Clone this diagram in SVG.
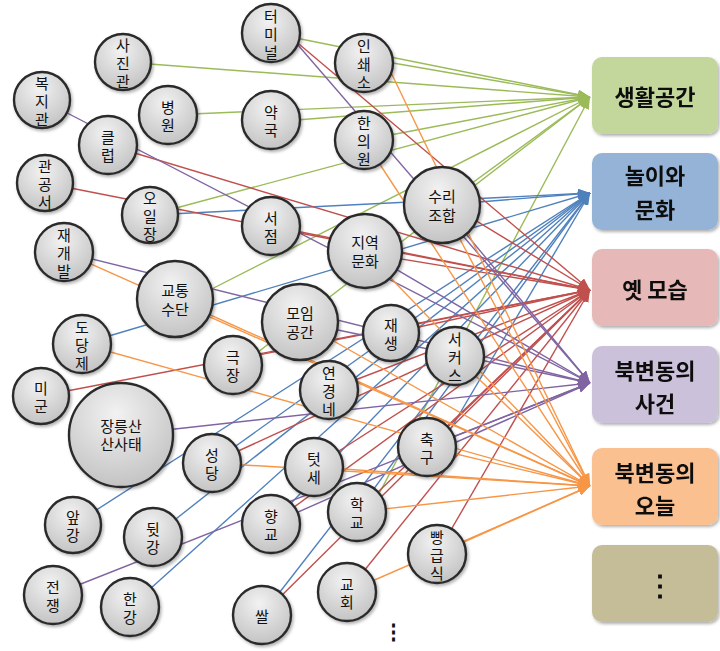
<svg xmlns="http://www.w3.org/2000/svg" width="720" height="651" viewBox="0 0 720 651">
<defs>
<style>
.t{font-family:"Noto Sans CJK KR","Liberation Sans",sans-serif;font-size:15px;fill:#111;text-anchor:middle;dominant-baseline:central}
.bt{font-family:"Noto Sans CJK KR","Liberation Sans",sans-serif;font-size:22px;font-weight:bold;fill:#111;text-anchor:middle;dominant-baseline:central}
.n{fill:url(#cg);stroke:#2a2a2a;stroke-width:2.4;filter:url(#sh)}
line{stroke-width:1.4;fill:none}
.g{stroke:#9bbb59;marker-end:url(#mg)}
.b{stroke:#4f81bd;marker-end:url(#mb)}
.r{stroke:#c0504d;marker-end:url(#mr)}
.p{stroke:#8064a2;marker-end:url(#mp)}
.o{stroke:#f79646;marker-end:url(#mo)}
.box{filter:url(#sh)}
</style>
<radialGradient id="cg" cx="0.45" cy="0.3" r="0.8">
<stop offset="0" stop-color="#f2f2f2"/>
<stop offset="1" stop-color="#bdbdbd"/>
</radialGradient>
<filter id="sh" x="-20%" y="-20%" width="150%" height="150%">
<feDropShadow dx="1.5" dy="2" stdDeviation="1.5" flood-color="#000" flood-opacity="0.3"/>
</filter>
<marker id="mg" markerUnits="userSpaceOnUse" markerWidth="12" markerHeight="10" refX="12" refY="5" orient="auto"><path d="M0,0 L12,5 L0,10 z" fill="#9bbb59"/></marker>
<marker id="mb" markerUnits="userSpaceOnUse" markerWidth="12" markerHeight="10" refX="12" refY="5" orient="auto"><path d="M0,0 L12,5 L0,10 z" fill="#4f81bd"/></marker>
<marker id="mr" markerUnits="userSpaceOnUse" markerWidth="12" markerHeight="10" refX="12" refY="5" orient="auto"><path d="M0,0 L12,5 L0,10 z" fill="#c0504d"/></marker>
<marker id="mp" markerUnits="userSpaceOnUse" markerWidth="12" markerHeight="10" refX="12" refY="5" orient="auto"><path d="M0,0 L12,5 L0,10 z" fill="#8064a2"/></marker>
<marker id="mo" markerUnits="userSpaceOnUse" markerWidth="12" markerHeight="10" refX="12" refY="5" orient="auto"><path d="M0,0 L12,5 L0,10 z" fill="#f79646"/></marker>
</defs>
<rect width="720" height="651" fill="#fff"/>

<g id="connectors">
<line class="g" x1="123" y1="62" x2="590" y2="97"/>
<line class="g" x1="271" y1="33" x2="590" y2="97"/>
<line class="g" x1="364" y1="58" x2="590" y2="97"/>
<line class="g" x1="168" y1="115" x2="590" y2="97"/>
<line class="g" x1="271" y1="122" x2="590" y2="97"/>
<line class="g" x1="364" y1="140" x2="590" y2="97"/>
<line class="g" x1="150" y1="215" x2="590" y2="97"/>
<line class="g" x1="190" y1="300" x2="590" y2="97"/>
<line class="g" x1="245" y1="362" x2="590" y2="97"/>
<line class="g" x1="442" y1="205" x2="590" y2="97"/>
<line class="g" x1="365" y1="520" x2="590" y2="97"/>
<line class="b" x1="150" y1="215" x2="590" y2="193"/>
<line class="b" x1="442" y1="205" x2="590" y2="193"/>
<line class="b" x1="82" y1="344" x2="590" y2="193"/>
<line class="b" x1="73" y1="525" x2="590" y2="193"/>
<line class="b" x1="153" y1="537" x2="590" y2="193"/>
<line class="b" x1="130" y1="607" x2="590" y2="193"/>
<line class="b" x1="262" y1="615" x2="590" y2="193"/>
<line class="b" x1="271" y1="524" x2="590" y2="193"/>
<line class="b" x1="212" y1="463" x2="590" y2="193"/>
<line class="b" x1="357" y1="512" x2="590" y2="193"/>
<line class="b" x1="440" y1="447" x2="590" y2="193"/>
<line class="r" x1="280" y1="28" x2="590" y2="290"/>
<line class="r" x1="108" y1="145" x2="590" y2="290"/>
<line class="r" x1="45" y1="183" x2="590" y2="290"/>
<line class="r" x1="271" y1="226" x2="590" y2="290"/>
<line class="r" x1="365" y1="253" x2="590" y2="290"/>
<line class="r" x1="442" y1="200" x2="590" y2="290"/>
<line class="r" x1="41" y1="396" x2="590" y2="290"/>
<line class="r" x1="233" y1="360" x2="590" y2="290"/>
<line class="r" x1="329" y1="390" x2="590" y2="290"/>
<line class="r" x1="314" y1="467" x2="590" y2="290"/>
<line class="r" x1="271" y1="524" x2="590" y2="290"/>
<line class="r" x1="212" y1="463" x2="590" y2="290"/>
<line class="r" x1="357" y1="512" x2="590" y2="290"/>
<line class="r" x1="347" y1="592" x2="590" y2="290"/>
<line class="r" x1="262" y1="615" x2="590" y2="290"/>
<line class="r" x1="437" y1="554" x2="590" y2="290"/>
<line class="r" x1="391" y1="333" x2="590" y2="290"/>
<line class="r" x1="427" y1="447" x2="590" y2="290"/>
<line class="p" x1="285" y1="30" x2="590" y2="383"/>
<line class="p" x1="42" y1="100" x2="590" y2="383"/>
<line class="p" x1="64" y1="252" x2="590" y2="383"/>
<line class="p" x1="365" y1="251" x2="590" y2="383"/>
<line class="p" x1="300" y1="322" x2="590" y2="383"/>
<line class="p" x1="121" y1="435" x2="590" y2="383"/>
<line class="p" x1="53" y1="595" x2="590" y2="383"/>
<line class="p" x1="271" y1="524" x2="590" y2="383"/>
<line class="p" x1="427" y1="447" x2="590" y2="383"/>
<line class="p" x1="442" y1="205" x2="590" y2="383"/>
<line class="o" x1="385" y1="60" x2="590" y2="486"/>
<line class="o" x1="364" y1="140" x2="590" y2="486"/>
<line class="o" x1="64" y1="252" x2="590" y2="486"/>
<line class="o" x1="82" y1="344" x2="590" y2="486"/>
<line class="o" x1="175" y1="299" x2="590" y2="486"/>
<line class="o" x1="300" y1="322" x2="590" y2="486"/>
<line class="o" x1="212" y1="463" x2="590" y2="486"/>
<line class="o" x1="314" y1="467" x2="590" y2="486"/>
<line class="o" x1="357" y1="512" x2="590" y2="486"/>
<line class="o" x1="347" y1="592" x2="590" y2="486"/>
<line class="o" x1="437" y1="554" x2="590" y2="486"/>
<line class="o" x1="427" y1="447" x2="590" y2="486"/>
<line class="o" x1="455" y1="356" x2="590" y2="486"/>
<line class="o" x1="442" y1="205" x2="590" y2="486"/>
<line class="o" x1="365" y1="251" x2="590" y2="486"/>
</g>

<g id="n-terminal"><circle class="n" cx="271" cy="33" r="29"/><text class="t"><tspan x="271" y="15">터</tspan><tspan x="271" y="33">미</tspan><tspan x="271" y="51">널</tspan></text></g>
<g id="n-sajingwan"><circle class="n" cx="123" cy="62" r="28"/><text class="t"><tspan x="123" y="44">사</tspan><tspan x="123" y="62">진</tspan><tspan x="123" y="80">관</tspan></text></g>
<g id="n-inswaeso"><circle class="n" cx="364" cy="63" r="29"/><text class="t"><tspan x="364" y="45">인</tspan><tspan x="364" y="63">쇄</tspan><tspan x="364" y="81">소</tspan></text></g>
<g id="n-bokjigwan"><circle class="n" cx="42" cy="100" r="28"/><text class="t"><tspan x="42" y="82">복</tspan><tspan x="42" y="100">지</tspan><tspan x="42" y="118">관</tspan></text></g>
<g id="n-byeongwon"><circle class="n" cx="168" cy="115" r="29"/><text class="t"><tspan x="168" y="106">병</tspan><tspan x="168" y="124">원</tspan></text></g>
<g id="n-yakguk"><circle class="n" cx="271" cy="120" r="29"/><text class="t"><tspan x="271" y="111">약</tspan><tspan x="271" y="129">국</tspan></text></g>
<g id="n-hanuiwon"><circle class="n" cx="364" cy="140" r="29"/><text class="t"><tspan x="364" y="122">한</tspan><tspan x="364" y="140">의</tspan><tspan x="364" y="158">원</tspan></text></g>
<g id="n-club"><circle class="n" cx="108" cy="145" r="29"/><text class="t"><tspan x="108" y="136">클</tspan><tspan x="108" y="154">럽</tspan></text></g>
<g id="n-gwangongseo"><circle class="n" cx="45" cy="183" r="28"/><text class="t"><tspan x="45" y="165">관</tspan><tspan x="45" y="183">공</tspan><tspan x="45" y="201">서</tspan></text></g>
<g id="n-surijohap"><circle class="n" cx="442" cy="205" r="38"/><text class="t"><tspan x="442" y="195">수리</tspan><tspan x="442" y="214">조합</tspan></text></g>
<g id="n-oiljang"><circle class="n" cx="150" cy="215" r="28"/><text class="t"><tspan x="150" y="197">오</tspan><tspan x="150" y="215">일</tspan><tspan x="150" y="233">장</tspan></text></g>
<g id="n-seojeom"><circle class="n" cx="271" cy="226" r="29"/><text class="t"><tspan x="271" y="217">서</tspan><tspan x="271" y="235">점</tspan></text></g>
<g id="n-jiyeokmunhwa"><circle class="n" cx="365" cy="251" r="37"/><text class="t"><tspan x="365" y="241">지역</tspan><tspan x="365" y="260">문화</tspan></text></g>
<g id="n-jaegaebal"><circle class="n" cx="64" cy="252" r="29"/><text class="t"><tspan x="64" y="234">재</tspan><tspan x="64" y="252">개</tspan><tspan x="64" y="270">발</tspan></text></g>
<g id="n-gyotong"><circle class="n" cx="175" cy="299" r="38"/><text class="t"><tspan x="175" y="289">교통</tspan><tspan x="175" y="308">수단</tspan></text></g>
<g id="n-moim"><circle class="n" cx="300" cy="322" r="38"/><text class="t"><tspan x="300" y="312">모임</tspan><tspan x="300" y="331">공간</tspan></text></g>
<g id="n-jaesaeng"><circle class="n" cx="391" cy="333" r="28"/><text class="t"><tspan x="391" y="324">재</tspan><tspan x="391" y="342">생</tspan></text></g>
<g id="n-dodangje"><circle class="n" cx="82" cy="344" r="29"/><text class="t"><tspan x="82" y="326">도</tspan><tspan x="82" y="344">당</tspan><tspan x="82" y="362">제</tspan></text></g>
<g id="n-circus"><circle class="n" cx="455" cy="356" r="29"/><text class="t"><tspan x="455" y="338">서</tspan><tspan x="455" y="356">커</tspan><tspan x="455" y="374">스</tspan></text></g>
<g id="n-geukjang"><circle class="n" cx="233" cy="365" r="29"/><text class="t"><tspan x="233" y="356">극</tspan><tspan x="233" y="374">장</tspan></text></g>
<g id="n-yeongyeongne"><circle class="n" cx="329" cy="390" r="29"/><text class="t"><tspan x="329" y="372">연</tspan><tspan x="329" y="390">경</tspan><tspan x="329" y="408">네</tspan></text></g>
<g id="n-migun"><circle class="n" cx="41" cy="396" r="28"/><text class="t"><tspan x="41" y="387">미</tspan><tspan x="41" y="405">군</tspan></text></g>
<g id="n-jangneung"><circle class="n" cx="121" cy="435" r="52"/><text class="t"><tspan x="121" y="425">장릉산</tspan><tspan x="121" y="443">산사태</tspan></text></g>
<g id="n-seongdang"><circle class="n" cx="212" cy="463" r="29"/><text class="t"><tspan x="212" y="454">성</tspan><tspan x="212" y="472">당</tspan></text></g>
<g id="n-chukgu"><circle class="n" cx="427" cy="447" r="29"/><text class="t"><tspan x="427" y="438">축</tspan><tspan x="427" y="456">구</tspan></text></g>
<g id="n-teotse"><circle class="n" cx="314" cy="467" r="29"/><text class="t"><tspan x="314" y="458">텃</tspan><tspan x="314" y="476">세</tspan></text></g>
<g id="n-hakgyo"><circle class="n" cx="357" cy="512" r="29"/><text class="t"><tspan x="357" y="503">학</tspan><tspan x="357" y="521">교</tspan></text></g>
<g id="n-hyanggyo"><circle class="n" cx="271" cy="524" r="29"/><text class="t"><tspan x="271" y="515">향</tspan><tspan x="271" y="533">교</tspan></text></g>
<g id="n-apgang"><circle class="n" cx="73" cy="525" r="28"/><text class="t"><tspan x="73" y="516">앞</tspan><tspan x="73" y="534">강</tspan></text></g>
<g id="n-dwitgang"><circle class="n" cx="153" cy="537" r="29"/><text class="t"><tspan x="153" y="528">뒷</tspan><tspan x="153" y="546">강</tspan></text></g>
<g id="n-ppang"><circle class="n" cx="437" cy="554" r="29"/><text class="t"><tspan x="437" y="536">빵</tspan><tspan x="437" y="554">급</tspan><tspan x="437" y="572">식</tspan></text></g>
<g id="n-jeonjaeng"><circle class="n" cx="53" cy="595" r="29"/><text class="t"><tspan x="53" y="586">전</tspan><tspan x="53" y="604">쟁</tspan></text></g>
<g id="n-hangang"><circle class="n" cx="130" cy="607" r="29"/><text class="t"><tspan x="130" y="598">한</tspan><tspan x="130" y="616">강</tspan></text></g>
<g id="n-gyohoe"><circle class="n" cx="347" cy="592" r="29"/><text class="t"><tspan x="347" y="583">교</tspan><tspan x="347" y="601">회</tspan></text></g>
<g id="n-ssal"><circle class="n" cx="262" cy="615" r="29"/><text class="t" x="262" y="615">쌀</text></g>
<g id="n-more"><text class="t" x="393" y="630" style="font-size:21px;font-weight:bold">⋮</text></g>

<g id="b-life" class="box"><rect x="592" y="57" width="126" height="77" rx="10" fill="#c3d69b"/><text class="bt" x="655" y="95">생활공간</text></g>
<g id="b-play" class="box"><rect x="592" y="153" width="126" height="77" rx="10" fill="#95b3d7"/><text class="bt"><tspan x="655" y="174">놀이와</tspan><tspan x="655" y="208">문화</tspan></text></g>
<g id="b-old" class="box"><rect x="592" y="249" width="126" height="77" rx="10" fill="#e6b9b8"/><text class="bt" x="655" y="288">옛 모습</text></g>
<g id="b-event" class="box"><rect x="592" y="346" width="126" height="77" rx="10" fill="#ccc1da"/><text class="bt"><tspan x="655" y="369">북변동의</tspan><tspan x="655" y="402">사건</tspan></text></g>
<g id="b-today" class="box"><rect x="592" y="448" width="126" height="77" rx="10" fill="#fac090"/><text class="bt"><tspan x="655" y="471">북변동의</tspan><tspan x="655" y="504">오늘</tspan></text></g>
<g id="b-more" class="box"><rect x="592" y="545" width="126" height="77" rx="10" fill="#c4bd97"/><text class="bt" x="660" y="583" style="font-size:28px">⋮</text></g>
</svg>
